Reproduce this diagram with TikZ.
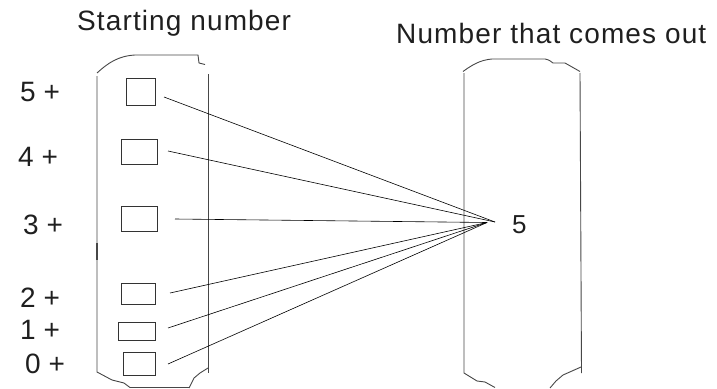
\documentclass[tikz,border=0pt]{standalone}
\usepackage{fontspec}
\setmainfont{Liberation Sans}
\newfontfamily\widefont[LetterSpace=4]{Liberation Sans}
\begin{document}
\begin{tikzpicture}[x=1pt,y=-1pt,
  lbl/.style={anchor=base west,inner sep=0pt,font=\fontsize{28}{32}\selectfont,text=black!88},
  title/.style={anchor=base west,inner sep=0pt,font=\widefont\fontsize{28}{32}\selectfont,text=black!88},
  slot/.style={draw=black!80,line width=0.9pt,rectangle,inner sep=0pt},
  panel/.style={draw=black!72,line width=0.9pt},
  link/.style={draw=black,line width=0.6pt}]
\useasboundingbox (0,0) rectangle (717,388);

% titles
\node[title] (t1) at (77,30.7) {Starting number};
\node[title] (t2) at (396,43) {Number that comes out};

% left labels
\node[lbl] (l5) at (20,101) {5 +};
\node[lbl] (l4) at (18,166) {4 +};
\node[lbl] (l3) at (23,234) {3 +};
\node[lbl] (l2) at (20,307) {2 +};
\node[lbl] (l1) at (20,339) {1 +};
\node[lbl] (l0) at (25,373) {0 +};

% left panel outline
\draw[panel] (97,73) .. controls (108,63) and (118,56) .. (135,55) -- (198,55) -- (199,63) -- (205,64.5);
\draw[panel] (97,76) -- (97,372) -- (112,380) -- (124,383) -- (130,387.5) -- (189,387.5);
\draw[panel] (208,74) -- (208,373);
\draw[panel] (208,368) -- (200,373) -- (194,378) -- (189,388);
\draw[black!72,line width=1.6pt] (97,243) -- (97,260);

% right panel outline
\draw[panel] (463,71.5) .. controls (472,65) and (480,60) .. (492,59) -- (545,59) .. controls (549,60) .. (553,63) -- (565,63) .. controls (572,68) .. (580,71.5);
\draw[panel] (464,73) -- (464,373) -- (477,381) -- (485,382) -- (495,387.5);
\draw[panel] (580,73) -- (581.5,373);
\draw[panel] (581,367) -- (563,375) -- (556,381) -- (550,388);

% slots
\node[slot,minimum width=29pt,minimum height=27pt] (b5) at (140.5,91.5) {};
\node[slot,minimum width=36pt,minimum height=25pt] (b4) at (139,151.5) {};
\node[slot,minimum width=36pt,minimum height=25pt] (b3) at (139,218.5) {};
\node[slot,minimum width=34pt,minimum height=21pt] (b2) at (138,293.5) {};
\node[slot,minimum width=37pt,minimum height=18pt] (b1) at (136.5,331) {};
\node[slot,minimum width=32pt,minimum height=23pt] (b0) at (139,363.5) {};

% result
\node[lbl,font=\fontsize{26}{30}\selectfont] (r) at (512,233) {5};

% connector ends
\coordinate (s5) at (164,97);
\coordinate (s4) at (168,151);
\coordinate (s3) at (175,219);
\coordinate (s2) at (170,293);
\coordinate (s1) at (168,328);
\coordinate (s0) at (168,364);
\coordinate (c1) at (495,222);
\coordinate (c2) at (487,222.5);

\draw[link] (s5) -- (c1);
\draw[link] (s4) -- (c1);
\draw[link] (s3) -- (c2);
\draw[link] (s2) -- (c2);
\draw[link] (s1) -- (c2);
\draw[link] (s0) -- (c2);
\end{tikzpicture}
\end{document}
